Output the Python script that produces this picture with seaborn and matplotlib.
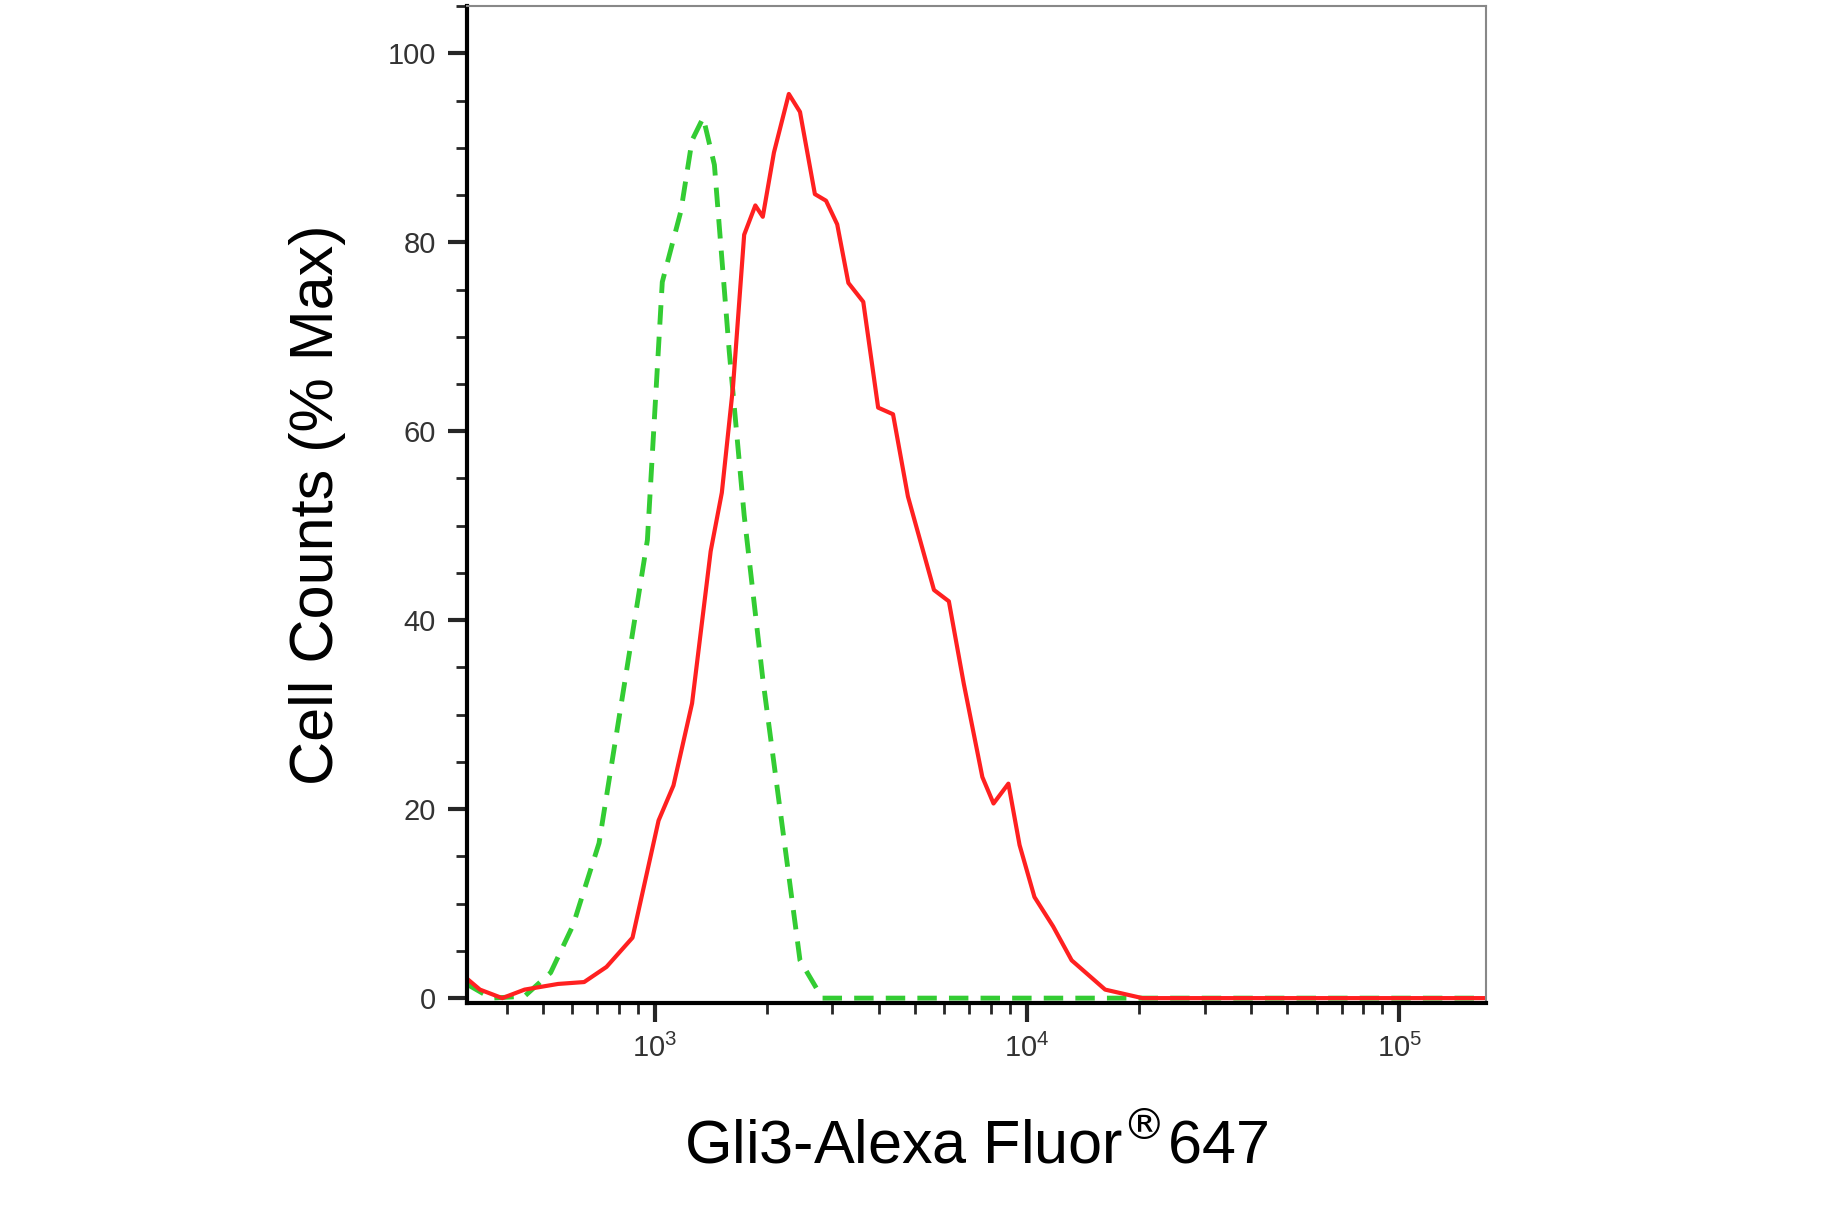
import numpy as np
import pandas as pd
import seaborn as sns
import matplotlib.pyplot as plt
from matplotlib.ticker import LogLocator, MultipleLocator, NullFormatter

# red: stained sample (log10 intensity, % max)
red_log = [2.494, 2.53, 2.59, 2.65, 2.74, 2.81, 2.87, 2.94, 3.01, 3.05, 3.10, 3.15,
           3.18, 3.21, 3.24, 3.27, 3.29, 3.32, 3.36, 3.39, 3.43, 3.46, 3.49, 3.52,
           3.56, 3.60, 3.64, 3.68, 3.75, 3.79, 3.83, 3.88, 3.91, 3.95, 3.98, 4.02,
           4.07, 4.12, 4.21, 4.31, 5.234]
red_pct = [2.1, 0.9, 0.0, 0.9, 1.5, 1.7, 3.3, 6.4, 18.8, 22.5, 31.2, 47.3,
           53.5, 64.7, 80.8, 83.9, 82.7, 89.5, 95.7, 93.8, 85.1, 84.4, 81.9, 75.7,
           73.7, 62.5, 61.8, 53.1, 43.2, 42.0, 33.3, 23.4, 20.6, 22.7, 16.2, 10.7,
           7.6, 4.0, 0.9, 0.0, 0.0]
# green: isotype control
green_log = [2.494, 2.56, 2.65, 2.72, 2.78, 2.85, 2.91, 2.98, 3.02, 3.07, 3.10,
             3.13, 3.16, 3.20, 3.24, 3.29, 3.34, 3.39, 3.45, 5.234]
green_pct = [1.5, 0.0, 0.2, 2.7, 7.7, 16.4, 31.2, 48.5, 75.8, 83.3, 90.8,
             93.2, 88.2, 68.4, 51.1, 33.8, 18.9, 4.0, 0.0, 0.0]

df_red = pd.DataFrame({"x": 10 ** np.array(red_log), "y": red_pct})
df_green = pd.DataFrame({"x": 10 ** np.array(green_log), "y": green_pct})

sns.set_style("ticks")
plt.rcParams["font.family"] = ["Liberation Sans", "DejaVu Sans"]

fig = plt.figure(figsize=(18.44, 12.2), dpi=100)
ax = fig.add_axes([0.253, 0.178, 0.553, 0.817])

sns.lineplot(data=df_green, x="x", y="y", ax=ax, color="#33cc33", lw=3.5,
             linestyle=(0, (4, 2.5)))
sns.lineplot(data=df_red, x="x", y="y", ax=ax, color="#ff2020", lw=3)

ax.set_xscale("log")
ax.set_xlim(10 ** 2.494, 10 ** 5.234)
ax.set_ylim(-0.5, 105)
ax.set_xticks([1e3, 1e4, 1e5])
ax.xaxis.set_minor_locator(LogLocator(base=10, subs=np.arange(2, 10)))
ax.xaxis.set_minor_formatter(NullFormatter())
ax.set_yticks([0, 20, 40, 60, 80, 100])
ax.yaxis.set_minor_locator(MultipleLocator(5))

ax.tick_params(axis="both", which="major", length=14, width=3, labelsize=21,
               labelcolor="#333333", pad=8)
ax.tick_params(axis="both", which="minor", length=8, width=2)
for s in ["left", "bottom"]:
    ax.spines[s].set_linewidth(3)
    ax.spines[s].set_color("black")
for s in ["top", "right"]:
    ax.spines[s].set_linewidth(1.5)
    ax.spines[s].set_color("#888888")

ax.set_xlabel("Gli3-Alexa Fluor$^{\u00ae}$647", fontsize=44, labelpad=40,
              color="black")
ax.set_ylabel("Cell Counts (% Max)", fontsize=44, labelpad=30, color="black")

fig.savefig("out.png", dpi=100)
